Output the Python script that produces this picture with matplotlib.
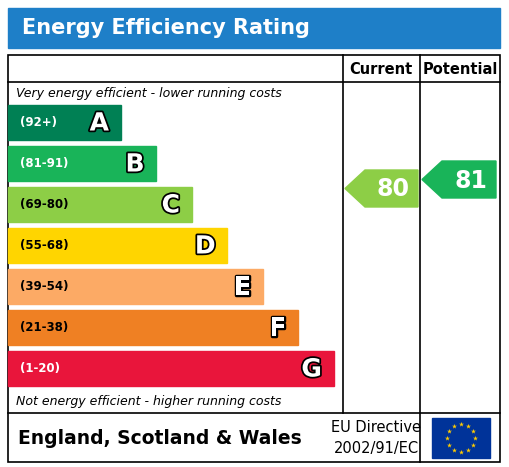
import numpy as np
import matplotlib.pyplot as plt
from matplotlib.patches import Rectangle, Polygon
import matplotlib.patheffects as pe

bands = ['A', 'B', 'C', 'D', 'E', 'F', 'G']
ranges = ['(92+)', '(81-91)', '(69-80)', '(55-68)', '(39-54)', '(21-38)', '(1-20)']
lows = [92, 81, 69, 55, 39, 21, 1]
colors = ['#008054', '#19b459', '#8dce46', '#ffd500', '#fcaa65', '#ef8023', '#e9153b']
range_text_colors = ['white', 'white', 'black', 'black', 'black', 'black', 'white']
current = 80
potential = 81

W, H = 509, 467
fig = plt.figure(figsize=(W / 100, H / 100), dpi=100)
ax = fig.add_axes([0, 0, 1, 1])
ax.set_xlim(0, W)
ax.set_ylim(H, 0)
ax.axis('off')

# title bar
ax.add_patch(Rectangle((8, 8), 492, 40, color='#1e7fc8'))
ax.text(22, 28, 'Energy Efficiency Rating', color='white', fontsize=15,
        fontweight='bold', va='center', ha='left')

# frame
lw = 1.2
ax.add_patch(Rectangle((8, 55), 492, 407, fill=False, ec='black', lw=lw))
ax.plot([8, 500], [82, 82], color='black', lw=lw)
ax.plot([8, 500], [413, 413], color='black', lw=lw)
ax.plot([343, 343], [55, 413], color='black', lw=lw)
ax.plot([420, 420], [55, 462], color='black', lw=lw)
ax.text(381, 69, 'Current', fontsize=10.5, fontweight='bold', ha='center', va='center')
ax.text(460, 69, 'Potential', fontsize=10.5, fontweight='bold', ha='center', va='center')

ax.text(16, 94, 'Very energy efficient - lower running costs', fontsize=9,
        style='italic', va='center')
ax.text(16, 401, 'Not energy efficient - higher running costs', fontsize=9,
        style='italic', va='center')

band_top, band_h, step = 105, 35, 41
stroke = [pe.withStroke(linewidth=2.5, foreground='black')]
for i, (b, r, c, tc) in enumerate(zip(bands, ranges, colors, range_text_colors)):
    y = band_top + i * step
    right = 121 + i * 35.5
    ax.add_patch(Rectangle((8, y), right - 8, band_h, color=c))
    ax.text(20, y + band_h / 2, r, fontsize=8.5, fontweight='bold', color=tc, va='center')
    ax.text(right - 12, y + band_h / 2 + 1, b, fontsize=18, fontweight='bold', color='white',
            ha='right', va='center', path_effects=stroke)


def band_index(v):
    for i, lo in enumerate(lows):
        if v >= lo:
            return i
    return len(lows) - 1


def arrow(x0, x1, v, yoff):
    i = band_index(v)
    y = band_top + i * step + yoff
    h = 37
    pts = [(x0, y + h / 2), (x0 + 20, y), (x1, y), (x1, y + h), (x0 + 20, y + h)]
    ax.add_patch(Polygon(pts, closed=True, color=colors[i]))
    ax.text((x0 + 20 + x1) / 2 + 2, y + h / 2 + 1, str(v), fontsize=17, fontweight='bold',
            color='white', ha='center', va='center')


arrow(345, 418, current, -17)
arrow(422, 496, potential, 15)

# footer
ax.text(18, 438, 'England, Scotland & Wales', fontsize=13.5, fontweight='bold', va='center')
ax.text(376, 428, 'EU Directive', fontsize=10.5, ha='center', va='center')
ax.text(376, 448, '2002/91/EC', fontsize=10.5, ha='center', va='center')
ax.add_patch(Rectangle((432, 418), 58, 40, color='#003399'))
ang = np.linspace(0, 2 * np.pi, 13)[:-1]
ax.scatter(461 + 14 * np.cos(ang), 438 + 14 * np.sin(ang), marker='*', s=14,
           color='#ffcc00', lw=0)

fig.savefig('out.png', dpi=100)
